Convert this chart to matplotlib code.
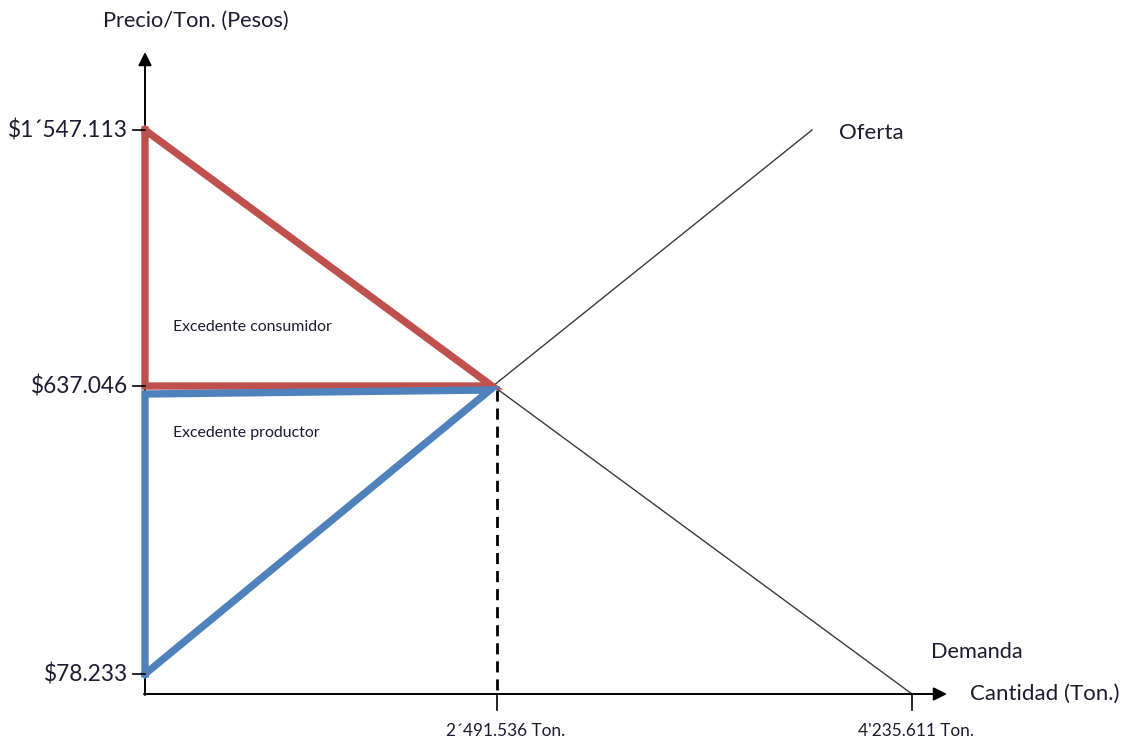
import matplotlib
matplotlib.use("Agg")
import matplotlib.pyplot as plt

# ---- data (labels / values) ----
price_labels = ["$1´547.113", "$637.046", "$78.233"]          # P max, P equilibrium, P min
quantity_labels = ["2´491.536 Ton.", "4'235.611 Ton."]         # Q equilibrium, Q max
curve_names = ["Oferta", "Demanda"]
area_names = ["Excedente consumidor", "Excedente productor"]
axis_titles = ["Precio/Ton. (Pesos)", "Cantidad (Ton.)"]

# ---- schematic layout (diagram is not drawn to scale) ----
W, H = 1127, 742
fig = plt.figure(figsize=(W / 100, H / 100), dpi=100)
ax = fig.add_axes([0, 0, 1, 1])
ax.set_xlim(0, W)
ax.set_ylim(0, H)
ax.axis("off")

FONT = ["Lato", "DejaVu Sans"]
TXT = "#1c1c30"
RED = "#C0504D"
BLUE = "#4F81BD"

x0, y0 = 145, 48                 # origin
py = [612, 356, 68]              # schematic y positions for price levels
qx = [497, 912]                  # schematic x positions for quantity levels
x_eq = 493

# axes with arrows
ax.annotate("", xy=(x0, 690), xytext=(x0, y0 - 1),
            arrowprops=dict(arrowstyle="-|>", mutation_scale=20, lw=1.4, color="black",
                            shrinkA=0, shrinkB=0))
ax.annotate("", xy=(947, y0), xytext=(x0 - 1, y0),
            arrowprops=dict(arrowstyle="-|>", mutation_scale=20, lw=1.4, color="black",
                            shrinkA=0, shrinkB=0))

# demand and supply (thin)
ax.plot([x0, qx[1]], [py[0], y0], color="#3a3a3a", lw=1.0, zorder=2)
ax.plot([x_eq, 812], [py[1], 612], color="#3a3a3a", lw=1.0, zorder=2)

# dashed equilibrium quantity line
ax.plot([qx[0], qx[0]], [py[1] - 4, y0], color="black", lw=2, ls=(0, (4, 2.5)), zorder=3)

# consumer surplus (red triangle)
ax.plot([x0, x0, x_eq - 1, x0], [py[0], py[1], py[1], py[0]], color=RED, lw=5.3,
        solid_joinstyle="miter", zorder=4)
# producer surplus (blue triangle)
ax.plot([x0, x0, x_eq - 3, x0], [py[2], py[1] - 8, py[1] - 4, py[2]], color=BLUE, lw=5.3,
        solid_joinstyle="miter", zorder=4)

# ticks
for y in py:
    ax.plot([x0 - 12, x0], [y, y], color="black", lw=1.2, zorder=5)
for x in qx:
    ax.plot([x, x], [y0, y0 - 16], color="black", lw=1.2, zorder=5)

# tick labels
for lab, y in zip(price_labels, py):
    ax.text(128, y, lab, ha="right", va="center", fontsize=16.3, family=FONT, color=TXT)
ax.text(506, 11, quantity_labels[0], ha="center", va="center", fontsize=12.4, family=FONT, color=TXT)
ax.text(916, 11, quantity_labels[1], ha="center", va="center", fontsize=12.4, family=FONT, color=TXT)

# titles and curve names
ax.text(103, 721, axis_titles[0], ha="left", va="center", fontsize=15.7, family=FONT, color=TXT)
ax.text(970, 48, axis_titles[1], ha="left", va="center", fontsize=16, family=FONT, color=TXT)
ax.text(839, 609, curve_names[0], ha="left", va="center", fontsize=16, family=FONT, color=TXT)
ax.text(931, 90, curve_names[1], ha="left", va="center", fontsize=15.7, family=FONT, color=TXT)

# area names
ax.text(173, 415, area_names[0], ha="left", va="center", fontsize=11.4, family=FONT, color=TXT)
ax.text(173, 309, area_names[1], ha="left", va="center", fontsize=11.4, family=FONT, color=TXT)

fig.savefig("out.png", dpi=100, facecolor="white")
